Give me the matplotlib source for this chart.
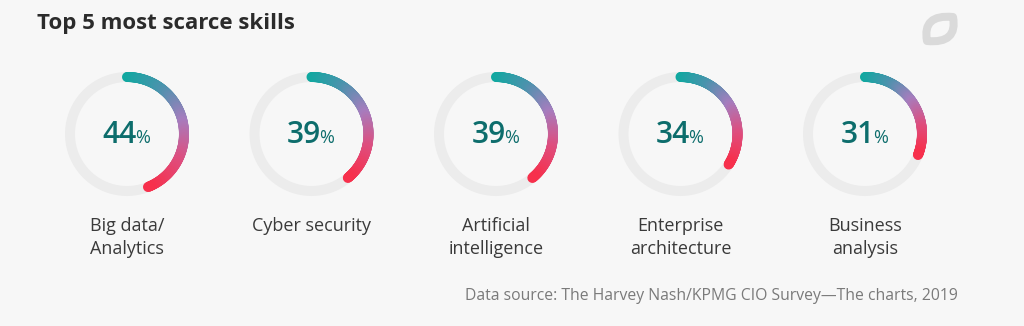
import numpy as np
import matplotlib.pyplot as plt
from matplotlib.collections import LineCollection
from matplotlib.colors import LinearSegmentedColormap
from matplotlib.path import Path
from matplotlib.patches import PathPatch

skills = ["Big data/\nAnalytics", "Cyber security", "Artificial\nintelligence",
          "Enterprise\narchitecture", "Business\nanalysis"]
shares = [44, 39, 39, 34, 31]
title = "Top 5 most scarce skills"
source = "Data source: The Harvey Nash/KPMG CIO Survey\u2014The charts, 2019"

W, H = 1024, 326
BG = "#f7f7f7"
FONT = ["Open Sans", "DejaVu Sans"]

ring_cmap = LinearSegmentedColormap.from_list(
    "ring", ["#0fa9a0", "#4b93ad", "#a77dbe", "#de4f80", "#f7304c"])

fig = plt.figure(figsize=(W / 100, H / 100), dpi=100, facecolor=BG)
ax = fig.add_axes([0, 0, 1, 1])
ax.set_xlim(0, W)
ax.set_ylim(H, 0)
ax.set_aspect("equal")
ax.axis("off")
ax.set_facecolor(BG)

px = 72 / 100  # points per pixel
r = 57
cy = 134
x0, step = 127, 184.5

for i, (name, val) in enumerate(zip(skills, shares)):
    cx = x0 + i * step
    # background track
    t = np.linspace(0, 2 * np.pi, 361)
    ax.plot(cx + r * np.sin(t), cy - r * np.cos(t), color="#ececec",
            lw=10 * px, solid_capstyle="butt", zorder=1)
    # gradient arc, clockwise from 12 o'clock
    end = 2 * np.pi * val / 100
    t = np.linspace(0, end, 200)
    xs, ys = cx + r * np.sin(t), cy - r * np.cos(t)
    pts = np.column_stack([xs, ys]).reshape(-1, 1, 2)
    segs = np.concatenate([pts[:-1], pts[1:]], axis=1)
    lc = LineCollection(segs, colors=ring_cmap(np.linspace(0, 1, len(segs))),
                        linewidths=10 * px, capstyle="round", zorder=2)
    ax.add_collection(lc)

    # value label: big number plus small percent sign, centred together
    num = ax.text(cx, cy + 1, str(val), fontsize=21.5, color="#0d6d6c",
                  family=FONT, ha="right", va="center", fontweight="semibold")
    pct = ax.text(cx, cy + 4, "%", fontsize=13, color="#0d6d6c",
                  family=FONT, ha="left", va="center")
    fig.canvas.draw()
    rend = fig.canvas.get_renderer()
    wn = num.get_window_extent(rend).width
    wp = pct.get_window_extent(rend).width
    shift = (wn - wp) / 2
    num.set_x(cx + shift)
    pct.set_x(cx + shift - 2)

    ax.text(cx, 217, name, fontsize=13, color="#3a3a3a", family=FONT,
            ha="center", va="top", linespacing=1.38)

ax.text(37, 23, title, fontsize=16, fontweight="bold", color="#2b2b2b",
        family=FONT, ha="left", va="center")
ax.text(958, 296, source, fontsize=11.3, color="#7a7a7a", family=FONT,
        ha="right", va="center")

# leaf logo in the top right corner
verts = [(927, 41), (922, 14), (953, 17), (953, 17), (958, 44), (927, 41), (927, 41)]
codes = [Path.MOVETO, Path.CURVE3, Path.CURVE3, Path.LINETO,
         Path.CURVE3, Path.CURVE3, Path.CLOSEPOLY]
ax.add_patch(PathPatch(Path(verts, codes), facecolor="none", edgecolor="#dadada",
                       lw=8 * px, joinstyle="round", zorder=1))

fig.savefig("out.png", dpi=100, facecolor=BG)
